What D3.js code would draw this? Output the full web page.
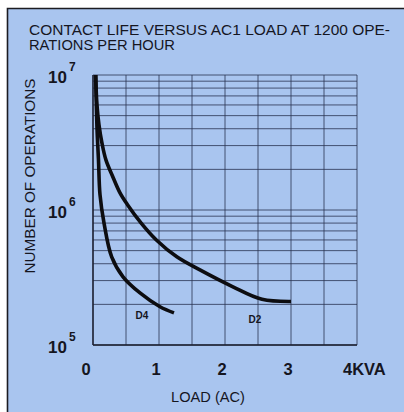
<html>
<head>
<script src="https://d3js.org/d3.v7.min.js"></script>
<style>
  body { margin: 0; background: #fff; }
  text { font-family: "Liberation Sans", Arial, sans-serif; fill: #15161f; }
</style>
</head>
<body>
<script>
// data (load in kVA, number of operations)
var loadD4 = [0.04, 0.06, 0.083, 0.106, 0.167, 0.283, 0.455, 0.712, 1.015, 1.227];
var opsD4  = [1e7, 4.1e6, 2.35e6, 1.3e6, 8.0e5, 4.5e5, 3.2e5, 2.43e5, 1.92e5, 1.73e5];
var loadD2 = [0.04, 0.06, 0.091, 0.136, 0.197, 0.303, 0.409, 0.52, 0.73, 0.96, 1.27, 1.62, 2.12, 2.56, 3.0];
var opsD2  = [1e7, 6e6, 4.26e6, 3.13e6, 2.34e6, 1.75e6, 1.34e6, 1.1e6, 8.0e5, 6.0e5, 4.5e5, 3.6e5, 2.7e5, 2.18e5, 2.1e5];
var xTicks = [0, 1, 2, 3, 4];
var xTickLabels = ["0", "1", "2", "3", "4KVA"];
var yTicks = [1e5, 1e6, 1e7];
var yExponents = ["5", "6", "7"];

var W = 404, H = 412;
var svg = d3.select("body").append("svg")
    .attr("width", W).attr("height", H);

// blue card with dark frame on left and top
svg.append("rect").attr("x", 8).attr("y", 9).attr("width", W - 8).attr("height", H - 9)
    .style("fill", "#a9c5ef");
svg.append("path").attr("d", "M7.5," + H + "V8.5H" + W)
    .style("fill", "none").style("stroke", "#1c1c22").style("stroke-width", 1.6);

var x = d3.scaleLinear().domain([0, 4]).range([93, 357]);
var y = d3.scaleLog().domain([1e5, 1e7]).range([345, 75]);

// grid lines
var hVals = [];
[1e5, 1e6].forEach(function(d) { for (var k = 1; k < 10; k++) hVals.push(d * k); });
hVals.push(1e7);
svg.append("g").selectAll("line").data(hVals).enter().append("line")
    .attr("x1", x(0)).attr("x2", x(4))
    .attr("y1", function(d) { return y(d); }).attr("y2", function(d) { return y(d); })
    .style("stroke", "#2b3553").style("stroke-width", 1).style("opacity", 0.8);
svg.append("g").selectAll("line").data(d3.range(0, 4.01, 0.5)).enter().append("line")
    .attr("x1", function(d) { return x(d); }).attr("x2", function(d) { return x(d); })
    .attr("y1", y(1e7)).attr("y2", y(1e5))
    .style("stroke", "#2b3553").style("stroke-width", 1).style("opacity", 0.8);
// frame of plot
svg.append("line").attr("x1", x(0)).attr("x2", x(4)).attr("y1", y(1e5)).attr("y2", y(1e5))
    .style("stroke", "#1c1f2e").style("stroke-width", 1.6);
svg.append("line").attr("x1", x(0)).attr("x2", x(0)).attr("y1", y(1e7)).attr("y2", y(1e5))
    .style("stroke", "#1c1f2e").style("stroke-width", 1.4);

// curves
var line = d3.line()
    .x(function(d) { return x(d[0]); })
    .y(function(d) { return y(d[1]); })
    .curve(d3.curveCatmullRom.alpha(0.5));
[[loadD4, opsD4], [loadD2, opsD2]].forEach(function(s) {
    svg.append("path")
        .datum(d3.zip(s[0], s[1]))
        .attr("d", line)
        .style("fill", "none").style("stroke", "#0d0d10")
        .style("stroke-width", 3.6).style("stroke-linejoin", "round");
});

svg.append("text").attr("x", 142).attr("y", 319).attr("text-anchor", "middle")
    .style("font-size", "10px").style("font-weight", "bold").text("D4");
svg.append("text").attr("x", 255).attr("y", 323).attr("text-anchor", "middle")
    .style("font-size", "10px").style("font-weight", "bold").text("D2");

// y tick labels 10^n
var yl = svg.append("g").selectAll("g").data(yTicks).enter().append("g")
    .attr("transform", function(d) { return "translate(48," + (y(d) + 8) + ")"; });
yl.append("text").style("font-size", "17px").style("font-weight", "bold").text("10");
yl.append("text").attr("x", 21).attr("y", -12).style("font-size", "12px").style("font-weight", "bold")
    .text(function(d, i) { return yExponents[i]; });

// x tick labels
svg.append("g").selectAll("text").data(xTicks).enter().append("text")
    .attr("x", function(d) { return d === 0 ? x(d) - 7 : d === 4 ? x(d) - 14 : x(d) - 3; })
    .attr("y", 375)
    .attr("text-anchor", function(d) { return d === 4 ? "start" : "middle"; })
    .style("font-size", "16.5px").style("font-weight", "bold")
    .text(function(d, i) { return xTickLabels[i]; });

// titles
svg.append("text").attr("x", 29).attr("y", 35).style("font-size", "14px")
    .attr("textLength", 361).attr("lengthAdjust", "spacingAndGlyphs")
    .text("CONTACT LIFE VERSUS AC1 LOAD AT 1200 OPE-");
svg.append("text").attr("x", 29).attr("y", 50).style("font-size", "14px")
    .attr("textLength", 146).attr("lengthAdjust", "spacingAndGlyphs")
    .text("RATIONS PER HOUR");
svg.append("text").attr("x", 208).attr("y", 402).attr("text-anchor", "middle")
    .style("font-size", "14.6px").text("LOAD (AC)");
svg.append("text").attr("transform", "translate(35,176) rotate(-90)")
    .attr("text-anchor", "middle").style("font-size", "14px")
    .attr("textLength", 195).attr("lengthAdjust", "spacingAndGlyphs")
    .text("NUMBER OF OPERATIONS");
</script>
</body>
</html>
